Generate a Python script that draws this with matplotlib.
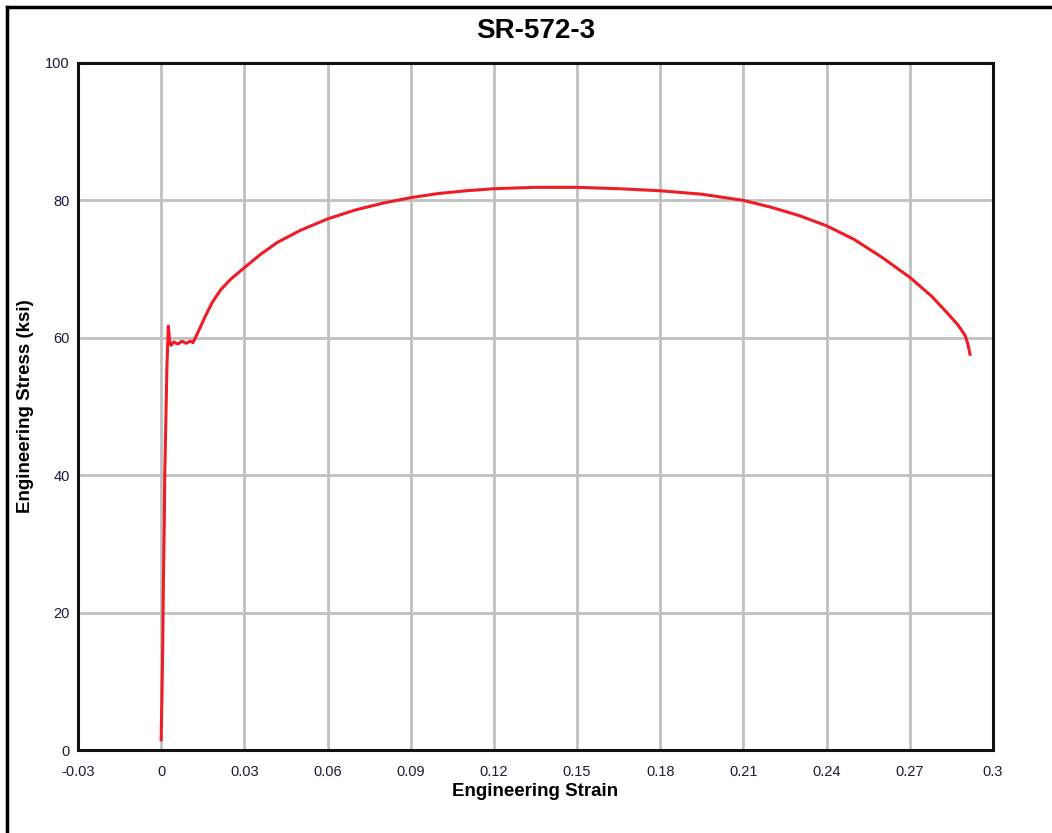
import matplotlib.pyplot as plt
from matplotlib.lines import Line2D

plt.rcParams['font.family'] = ['Liberation Sans', 'DejaVu Sans']

# stress-strain data
strain = [0.0, 0.0003, 0.0006, 0.0008, 0.0011, 0.0013, 0.0016, 0.0019, 0.0021, 0.0024,
          0.0026, 0.0028, 0.0031, 0.0036, 0.0045, 0.0060, 0.0075, 0.0090, 0.0105, 0.0115,
          0.0135, 0.0160, 0.0185, 0.0215, 0.0250, 0.0300, 0.0360, 0.0420, 0.0500, 0.0600,
          0.0700, 0.0800, 0.0900, 0.1000, 0.1100, 0.1200, 0.1350, 0.1500, 0.1650, 0.1800,
          0.1950, 0.2100, 0.2200, 0.2300, 0.2400, 0.2500, 0.2600, 0.2700, 0.2780, 0.2840,
          0.2875, 0.2900, 0.2910, 0.2917]
stress = [1.5, 8.0, 16.0, 24.0, 32.0, 40.0, 46.0, 52.0, 56.0, 59.5,
          61.7, 60.8, 59.3, 58.9, 59.4, 59.1, 59.5, 59.2, 59.5, 59.3,
          61.0, 63.2, 65.2, 67.0, 68.5, 70.2, 72.2, 73.9, 75.6, 77.3,
          78.6, 79.6, 80.4, 81.0, 81.4, 81.7, 81.9, 81.9, 81.7, 81.4,
          80.9, 80.0, 79.0, 77.8, 76.3, 74.3, 71.7, 68.8, 66.0, 63.4,
          61.8, 60.3, 59.0, 57.6]

xticks = [-0.03, 0, 0.03, 0.06, 0.09, 0.12, 0.15, 0.18, 0.21, 0.24, 0.27, 0.3]
xticklabels = ['-0.03', '0', '0.03', '0.06', '0.09', '0.12', '0.15', '0.18',
               '0.21', '0.24', '0.27', '0.3']
yticks = [0, 20, 40, 60, 80, 100]

fig = plt.figure(figsize=(10.52, 8.33), dpi=100)
ax = fig.add_axes([0.0741, 0.0996, 0.8698, 0.8248])

ax.plot(strain, stress, color='#ee1c24', linewidth=2.2, zorder=3)

ax.set_xlim(-0.03, 0.3)
ax.set_ylim(0, 100)
ax.set_xticks(xticks)
ax.set_xticklabels(xticklabels)
ax.set_yticks(yticks)
ax.grid(True, color='#c0c0c0', linewidth=2)
ax.set_axisbelow(True)
ax.tick_params(length=0, labelsize=10.5, labelcolor='#1a1a3a')
ax.tick_params(axis='x', pad=11)
ax.tick_params(axis='y', pad=6)
for sp in ax.spines.values():
    sp.set_linewidth(2.2)
    sp.set_color('#111111')

ax.set_title('SR-572-3', fontsize=20, fontweight='bold', pad=18)
ax.set_xlabel('Engineering Strain', fontsize=13.5, fontweight='bold', labelpad=3)
ax.set_ylabel('Engineering Stress (ksi)', fontsize=13.5, fontweight='bold', labelpad=8)

# outer frame (left and top only, as in the screenshot)
fig.add_artist(Line2D([7 / 1052, 7 / 1052], [0, 1 - 7 / 833], color='black', lw=2.5))
fig.add_artist(Line2D([7 / 1052, 1], [1 - 7 / 833, 1 - 7 / 833], color='black', lw=2.5))

fig.savefig('out.png', dpi=100)
